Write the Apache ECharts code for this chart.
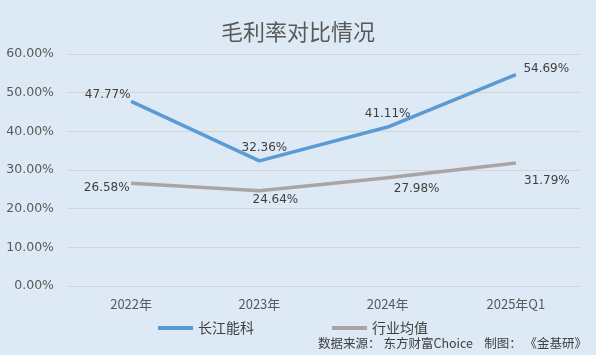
<!DOCTYPE html>
<html>
<head>
<meta charset="utf-8">
<script src="https://cdn.jsdelivr.net/npm/echarts@6/dist/echarts.min.js"></script>
<style>
html,body{margin:0;padding:0;background:#dde9f5;}
#chart{width:596px;height:355px;}
</style>
</head>
<body>
<div id="chart"></div>
<script>
var categories = ['2022年', '2023年', '2024年', '2025年Q1'];
var cjnk = [47.77, 32.36, 41.11, 54.69];
var industry = [26.58, 24.64, 27.98, 31.79];

// label placement per point
var cjnkPos = [['left', [5, -6]], ['top', [5, -1]], ['top', [0, -2]], ['right', [2, -6]]];
var indPos = [['left', [4, 5]], ['bottom', [16, -2]], ['bottom', [29, 0]], ['bottom', [31, 6]]];

function build(values, pos) {
	var out = [];
	for (var i = 0; i < values.length; i++) {
		out.push({
			value: values[i],
			label: { show: true, position: pos[i][0], offset: pos[i][1] }
		});
	}
	return out;
}

var myChart = echarts.init(document.getElementById('chart'));
var labelStyle = {
	show: true,
	color: '#404040',
	fontSize: 12,
	fontFamily: 'DejaVu Sans, sans-serif',
	formatter: function (p) { return p.value.toFixed(2) + '%'; }
};
var option = {
	backgroundColor: '#dde9f5',
	animation: false,
	title: {
		text: '毛利率对比情况',
		left: 'center',
		top: 16,
		textStyle: { color: '#595959', fontSize: 22, fontWeight: 'normal', fontFamily: 'Noto Sans CJK SC' }
	},
	legend: {
		left: 153,
		top: 316,
		itemWidth: 35,
		itemHeight: 4,
		itemGap: 78,
		icon: 'rect',
		textStyle: { color: '#404040', fontSize: 14, fontFamily: 'Noto Sans CJK SC' },
		data: [
			{ name: '长江能科', itemStyle: { color: '#5b9bd5', opacity: 1 } },
			{ name: '行业均值', itemStyle: { color: '#a9a5a5', opacity: 1 } }
		]
	},
	graphic: [{
		type: 'text',
		right: 9,
		top: 337,
		style: {
			text: '数据来源： 东方财富Choice    制图： 《金基研》',
			fill: '#404040',
			fontSize: 12.5,
			fontFamily: 'Noto Sans CJK SC'
		}
	}],
	grid: { left: 67, right: 16, top: 54, bottom: 69 },
	xAxis: {
		type: 'category',
		data: categories,
		boundaryGap: true,
		axisLine: { show: false },
		axisTick: { show: false },
		axisLabel: { color: '#595959', fontSize: 13, margin: 12, fontFamily: 'Noto Sans CJK SC' }
	},
	yAxis: {
		type: 'value',
		min: 0,
		max: 60,
		interval: 10,
		axisLabel: {
			color: '#595959',
			fontSize: 12.5,
			margin: 13,
			fontFamily: 'DejaVu Sans, sans-serif',
			formatter: function (v) { return v.toFixed(2) + '%'; }
		},
		splitLine: { lineStyle: { color: '#d6d6d0', width: 1 } }
	},
	series: [
		{
			name: '长江能科',
			type: 'line',
			data: build(cjnk, cjnkPos),
			symbol: 'circle',
			symbolSize: 1,
			showSymbol: true,
			itemStyle: { color: 'rgba(0,0,0,0)', borderWidth: 0 },
			lineStyle: { width: 3.5, color: '#5b9bd5' },
			label: labelStyle
		},
		{
			name: '行业均值',
			type: 'line',
			data: build(industry, indPos),
			symbol: 'circle',
			symbolSize: 1,
			showSymbol: true,
			itemStyle: { color: 'rgba(0,0,0,0)', borderWidth: 0 },
			lineStyle: { width: 3.5, color: '#a9a5a5' },
			label: labelStyle
		}
	]
};
myChart.setOption(option);
</script>
</body>
</html>
